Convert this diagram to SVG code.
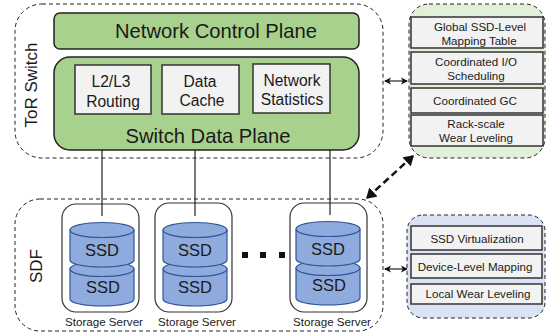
<svg xmlns="http://www.w3.org/2000/svg" width="547" height="333" viewBox="0 0 547 333">
<style>
text{font-family:"Liberation Sans",Arial,sans-serif;fill:#1a1a1a;text-anchor:middle}
.dash{stroke:#222;stroke-width:1;stroke-dasharray:4 3}
.plane{fill:#a9d18e;stroke:#222;stroke-width:1.5}
.gbox{fill:#f2f2f2;stroke:#333;stroke-width:1.5}
.srv{fill:#fff;stroke:#333;stroke-width:1.2}
.cyl{fill:#8faadc;stroke:#2f5597;stroke-width:1.2}
.link{stroke:#222;stroke-width:1.2;fill:none}
.side{font-size:17px}.lbl{font-size:15.6px}.ssd{font-size:16.5px}.sm{font-size:11.6px}.big{font-size:20.2px}
</style>
<defs>
<marker id="a" markerWidth="6" markerHeight="6" refX="5" refY="3" orient="auto-start-reverse"><path d="M0 0L6 3L0 6L1.5 3Z" fill="#111"/></marker>
<marker id="b" markerWidth="5" markerHeight="5" refX="3.5" refY="2.5" orient="auto-start-reverse" markerUnits="strokeWidth"><path d="M0 0L4 2.5L0 5Z" fill="#111"/></marker>
<g id="cyl"><path class="cyl" d="M0 7V37C0 41 14 44 32 44S64 41 64 37V7Z"/><ellipse class="cyl" cx="32" cy="7" rx="32" ry="7.5"/></g>
</defs>
<g id="tor"><rect class="dash" x="15" y="4" width="368" height="154" rx="27" fill="#fff"/>
<text class="side" transform="translate(37 85) rotate(-90)">ToR Switch</text></g>
<g id="sdf"><rect class="dash" x="15" y="199" width="368" height="132" rx="25" fill="#fff"/>
<text class="side" transform="translate(42 266) rotate(-90)">SDF</text></g>
<g id="control-plane"><rect class="plane" x="54" y="13" width="305" height="36" rx="6"/><text class="big" x="216" y="38">Network Control Plane</text></g>
<g id="data-plane"><rect class="plane" x="54" y="57" width="305" height="93" rx="16"/><text class="big" x="208" y="143">Switch Data Plane</text></g>
<g id="routing"><rect class="gbox" x="75" y="65" width="76" height="49"/><text class="lbl" x="111" y="87">L2/L3</text><text class="lbl" x="113" y="107">Routing</text></g>
<g id="cache"><rect class="gbox" x="162" y="65" width="77" height="49"/><text class="lbl" x="200" y="87">Data</text><text class="lbl" x="202" y="106">Cache</text></g>
<g id="stats"><rect class="gbox" x="253" y="64" width="77" height="49"/><text class="lbl" x="292" y="86">Network</text><text class="lbl" x="292" y="105">Statistics</text></g>
<g id="server1"><rect class="srv" x="62" y="204" width="77" height="108" rx="14"/>
<use href="#cyl" x="70" y="262"/><use href="#cyl" x="70" y="223"/>
<text class="ssd" x="102" y="256">SSD</text><text class="ssd" x="103" y="293">SSD</text><text class="sm" x="104" y="326">Storage Server</text></g>
<g id="server2"><rect class="srv" x="155" y="203" width="77" height="109" rx="14"/>
<use href="#cyl" x="163" y="262"/><use href="#cyl" x="163" y="223"/>
<text class="ssd" x="195" y="256">SSD</text><text class="ssd" x="195" y="293">SSD</text><text class="sm" x="197" y="326">Storage Server</text></g>
<g id="server3"><rect class="srv" x="290" y="203" width="77" height="109" rx="14"/>
<use href="#cyl" x="296" y="261"/><use href="#cyl" x="296" y="222"/>
<text class="ssd" x="328" y="255">SSD</text><text class="ssd" x="329" y="291">SSD</text><text class="sm" x="332" y="326">Storage Server</text></g>
<g id="ellipsis" fill="#111"><rect x="242" y="252" width="6" height="6"/><rect x="260" y="252" width="6" height="6"/><rect x="279" y="252" width="6" height="6"/></g>
<g id="connectors">
<path class="link" d="M102 150V216M195 150V216M330 150V215"/>
<path class="link" d="M385 81H407" marker-start="url(#a)" marker-end="url(#a)"/>
<path class="link" d="M385 269H407" marker-start="url(#a)" marker-end="url(#a)"/>
<path d="M413 156L367 198" stroke="#111" stroke-width="2.5" stroke-dasharray="7 4" fill="none" marker-start="url(#b)" marker-end="url(#b)"/>
</g>
<g id="global-panel"><rect class="dash" x="409" y="4" width="136" height="154" rx="20" fill="#e2efd9"/>
<rect class="gbox" x="411" y="17" width="132" height="31"/><text class="sm" x="480" y="31">Global SSD-Level</text><text class="sm" x="479" y="45">Mapping Table</text>
<rect class="gbox" x="411" y="52" width="132" height="32"/><text class="sm" x="476" y="66">Coordinated I/O</text><text class="sm" x="476" y="80">Scheduling</text>
<rect class="gbox" x="411" y="88" width="132" height="25"/><text class="sm" x="475" y="105">Coordinated GC</text>
<rect class="gbox" x="411" y="115" width="132" height="31"/><text class="sm" x="476" y="128">Rack-scale</text><text class="sm" x="476" y="142">Wear Leveling</text></g>
<g id="local-panel"><rect class="dash" x="407" y="215" width="138" height="103" rx="16" fill="#dae3f3"/>
<rect class="gbox" x="411" y="226" width="131" height="24"/><text class="sm" x="477" y="243">SSD Virtualization</text>
<rect class="gbox" x="411" y="254" width="131" height="24"/><text class="sm" x="475" y="271">Device-Level Mapping</text>
<rect class="gbox" x="411" y="284" width="131" height="20"/><text class="sm" x="478" y="298">Local Wear Leveling</text></g>
</svg>
